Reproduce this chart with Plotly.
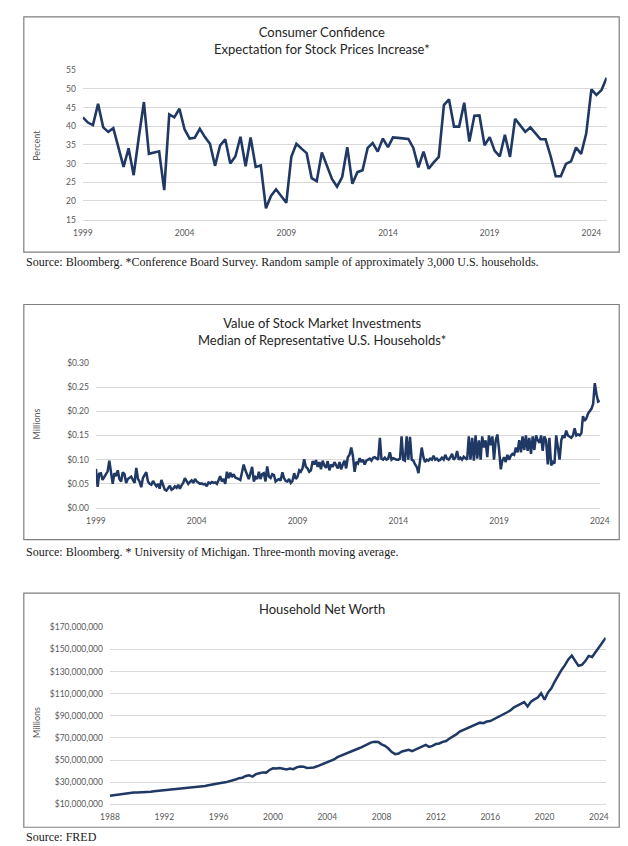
import pandas as pd
import plotly.graph_objects as go

##### Consumer confidence: expectation for stock prices increase (quarterly, %)
conf_dates = pd.date_range("1999-01-01", periods=104, freq="QS")
conf_pct = [42.4, 41.0, 40.3, 46.0,  39.7, 38.5, 39.5, 34.5,
            29.1, 34.1, 26.9, 37.0,  46.5, 32.6, 33.0, 33.3,
            22.9, 43.2, 42.4, 44.7,  39.2, 36.7, 36.9, 39.3,
            37.1, 35.3, 29.4, 34.9,  36.5, 30.0, 31.9, 37.2,
            29.3, 37.0, 29.1, 29.5,  18.0, 21.3, 23.1, 21.3,
            19.5, 31.8, 35.3, 34.0,  32.8, 26.1, 25.3, 33.0,
            29.4, 25.9, 23.8, 26.4,  34.4, 24.6, 27.7, 28.2,
            34.2, 35.5, 33.2, 36.7,  34.4, 37.0, 36.9, 36.8,
            36.6, 34.2, 29.0, 33.2,  28.6, 30.3, 31.8, 45.7,
            47.2, 39.9, 39.9, 46.3,  35.9, 42.8, 42.9, 34.9,
            37.1, 33.4, 31.9, 37.7,  31.8, 42.0, 40.4, 38.5,
            39.7, 38.1, 36.5, 36.5,  31.9, 26.6, 26.6, 29.9,
            30.6, 34.3, 32.6, 38.1,  49.9, 48.4, 49.7, 53.0]

##### Value of stock market investments, median household ($ millions, monthly)
stock_vals = [
    0.081, 0.044, 0.071, 0.072, 0.058, 0.065, 0.070, 0.076, 0.098, 0.070, 0.050, 0.072,  # 1999
    0.066, 0.078, 0.060, 0.055, 0.074, 0.070, 0.052, 0.060, 0.062, 0.065, 0.058, 0.052,  # 2000
    0.083, 0.060, 0.055, 0.043, 0.062, 0.070, 0.074, 0.055, 0.050, 0.048, 0.056, 0.050,  # 2001
    0.045, 0.050, 0.040, 0.058, 0.048, 0.038, 0.036, 0.040, 0.046, 0.038, 0.040, 0.045,  # 2002
    0.042, 0.048, 0.040, 0.047, 0.052, 0.062, 0.055, 0.050, 0.054, 0.057, 0.052, 0.060,  # 2003
    0.055, 0.052, 0.050, 0.051, 0.049, 0.050, 0.045, 0.053, 0.051, 0.054, 0.052, 0.053,  # 2004
    0.050, 0.058, 0.066, 0.055, 0.060, 0.050, 0.075, 0.062, 0.073, 0.064, 0.070, 0.063,  # 2005
    0.062, 0.060, 0.058, 0.072, 0.090, 0.078, 0.070, 0.060, 0.072, 0.085, 0.055, 0.064,  # 2006
    0.060, 0.075, 0.060, 0.070, 0.072, 0.055, 0.086, 0.065, 0.062, 0.070, 0.068, 0.055,  # 2007
    0.058, 0.060, 0.057, 0.074, 0.062, 0.056, 0.055, 0.060, 0.052, 0.056, 0.072, 0.060,  # 2008
    0.065, 0.078, 0.075, 0.082, 0.101, 0.085, 0.082, 0.075, 0.078, 0.097, 0.090, 0.099,  # 2009
    0.085, 0.095, 0.080, 0.098, 0.088, 0.083, 0.097, 0.078, 0.090, 0.085, 0.095, 0.088,  # 2010
    0.082, 0.095, 0.080, 0.090, 0.098, 0.082, 0.105, 0.110, 0.125, 0.108, 0.075, 0.095,  # 2011
    0.092, 0.103, 0.095, 0.100, 0.090, 0.098, 0.100, 0.102, 0.098, 0.104, 0.105, 0.103,  # 2012
    0.100, 0.145, 0.102, 0.100, 0.104, 0.100, 0.102, 0.115, 0.100, 0.103, 0.101, 0.100,  # 2013
    0.100, 0.102, 0.148, 0.100, 0.098, 0.148, 0.100, 0.147, 0.100, 0.098, 0.090, 0.085,  # 2014
    0.072, 0.095, 0.125, 0.105, 0.095, 0.100, 0.098, 0.102, 0.100, 0.108, 0.100, 0.102,  # 2015
    0.098, 0.100, 0.104, 0.100, 0.110, 0.102, 0.100, 0.105, 0.112, 0.100, 0.104, 0.118,  # 2016
    0.100, 0.104, 0.100, 0.106, 0.102, 0.100, 0.148, 0.100, 0.145, 0.098, 0.150, 0.102,  # 2017
    0.140, 0.100, 0.148, 0.125, 0.140, 0.105, 0.150, 0.130, 0.148, 0.100, 0.140, 0.152,  # 2018
    0.120, 0.080, 0.098, 0.105, 0.095, 0.110, 0.100, 0.108, 0.112, 0.110, 0.125, 0.115,  # 2019
    0.140, 0.115, 0.148, 0.120, 0.150, 0.118, 0.145, 0.112, 0.148, 0.120, 0.150, 0.140,  # 2020
    0.135, 0.150, 0.118, 0.148, 0.140, 0.090, 0.145, 0.088, 0.095, 0.092, 0.150, 0.125,  # 2021
    0.100, 0.140, 0.150, 0.145, 0.160, 0.150, 0.148, 0.145, 0.150, 0.165, 0.150, 0.152,  # 2022
    0.150, 0.155, 0.190, 0.180, 0.185, 0.195, 0.200, 0.205, 0.215, 0.258, 0.235, 0.220,  # 2023
    0.222,  # 2024
]
stock_dates = pd.date_range("1999-01-01", periods=len(stock_vals), freq="MS")

##### Household net worth (quarterly, $ trillions -> $ millions)
nw_tn = [17.7, 18.2, 18.6, 19.0,  19.5, 19.9, 20.4, 20.6,  20.7, 20.8, 20.6, 21.0,
         21.4, 21.7, 22.0, 22.5,  22.8, 23.0, 23.1, 23.5,  23.9, 24.3, 24.7, 25.1,
         25.3, 25.5, 25.8, 26.0,  26.5, 27.1, 27.8, 28.3,  28.9, 29.4, 29.8, 30.6,
         31.2, 32.3, 33.6, 34.0,  35.6, 36.2, 35.0, 37.2,  38.0, 38.8, 38.6, 41.0,
         42.5, 42.3, 42.8, 42.2,  41.5, 42.3, 41.7, 43.4,  44.2, 44.0, 42.8, 43.0,
         43.3, 44.3, 45.5, 47.3,  48.5, 49.8, 50.5, 52.6,  53.8, 54.7, 56.3, 57.3,
         59.0, 60.2, 61.4, 63.2,  64.5, 66.0, 66.6, 66.3,  64.2, 62.8, 60.4, 57.2,
         55.3, 55.9, 57.7, 58.2,  59.2, 58.1, 59.5, 61.4,  62.7, 63.6, 61.9, 62.8,
         64.5, 65.0, 66.4, 67.2,  69.5, 71.2, 73.2, 75.7,  77.0, 78.8, 79.4, 80.8,
         82.5, 83.8, 83.3, 84.8,  85.3, 86.8, 88.4, 89.6,  91.6, 93.2, 95.0, 97.6,
         99.3, 100.5, 102.4, 98.5,  102.8, 104.8, 106.5, 110.4,  104.5, 111.0, 114.9, 121.0,
         126.8, 131.5, 135.8, 141.0,  144.5, 139.3, 135.2, 136.0,  139.5, 144.2, 143.2, 147.5,
         152.1, 155.5, 160.5]
nw_dates = pd.date_range("1988-01-01", periods=len(nw_tn), freq="QS")
net_worth = [v * 1e6 for v in nw_tn]

W, H = 628, 846
LINE = "#1F3864"
GRID = "#D9D9D9"
TICK = "#595959"
SANS = "Lato, Open Sans, sans-serif"
SERIF = "Liberation Serif, DejaVu Serif, serif"


def px(x):
    return x / W


def py(y):
    return 1 - y / H


fig = go.Figure()
fig.add_trace(go.Scatter(x=conf_dates, y=conf_pct, mode="lines",
                         line=dict(color=LINE, width=2.6), xaxis="x", yaxis="y"))
fig.add_trace(go.Scatter(x=stock_dates, y=stock_vals, mode="lines",
                         line=dict(color=LINE, width=2.5), xaxis="x2", yaxis="y2"))
fig.add_trace(go.Scatter(x=nw_dates, y=net_worth, mode="lines",
                         line=dict(color=LINE, width=2.5), xaxis="x3", yaxis="y3"))

tickfont = dict(family=SANS, size=8.5, color=TICK)
xcommon = dict(type="date", showgrid=False, zeroline=False, ticks="", tickformat="%Y",
               tickfont=tickfont, showline=True, linecolor=GRID, linewidth=1,
               ticklabelstandoff=5)
ycommon = dict(showgrid=True, gridcolor=GRID, gridwidth=1, zeroline=False, ticks="",
               tickfont=tickfont, ticklabelstandoff=6)

fig.update_layout(
    width=W, height=H,
    margin=dict(l=0, r=0, t=0, b=0),
    paper_bgcolor="white", plot_bgcolor="white",
    showlegend=False,
    xaxis=dict(xcommon, domain=[px(67), px(608)], anchor="y",
               range=["1999-01-01", "2024-10-01"], tick0="1999-01-01", dtick="M60"),
    yaxis=dict(ycommon, domain=[py(209), py(58)], anchor="x",
               range=[15, 55], dtick=5),
    xaxis2=dict(xcommon, domain=[px(80.5), px(601)], anchor="y2",
                range=["1999-01-01", "2024-01-01"], tick0="1999-01-01", dtick="M60"),
    yaxis2=dict(ycommon, domain=[py(501), py(354)], anchor="x2",
                range=[0, 0.30], dtick=0.05, tickformat="$.2f"),
    xaxis3=dict(xcommon, domain=[px(95), px(607)], anchor="y3",
                range=["1988-01-01", "2024-07-01"], tick0="1988-01-01", dtick="M48"),
    yaxis3=dict(ycommon, domain=[py(800.7), py(621.7)], anchor="x3",
                range=[10e6, 170e6], tick0=10e6, dtick=20e6, tickformat="$,.0f"),
)

# panel frames
for top, bottom in [(4, 242), (295, 533), (587, 824)]:
    fig.add_shape(type="rect", xref="paper", yref="paper",
                  x0=px(6), x1=px(621), y0=py(bottom), y1=py(top),
                  line=dict(color="#7F7F7F", width=1.2))

titles = [
    ("Consumer Confidence<br>Expectation for Stock Prices Increase*", 314, 28),
    ("Value of Stock Market Investments<br>Median of Representative U.S. Households*", 314, 322),
    ("Household Net Worth", 314, 603),
]
for text, x, y in titles:
    fig.add_annotation(text=text, x=px(x), y=py(y), xref="paper", yref="paper",
                       showarrow=False, xanchor="center", yanchor="middle",
                       font=dict(family=SANS, size=13, color="#262626"))

for text, y in [("Percent", 134), ("Millions", 416), ("Millions", 718)]:
    fig.add_annotation(text=text, x=px(19), y=py(y), xref="paper", yref="paper",
                       showarrow=False, textangle=-90, xanchor="center", yanchor="middle",
                       font=dict(family=SANS, size=9, color=TICK))

sources = [
    ("Source: Bloomberg. *Conference Board Survey. Random sample of approximately 3,000 U.S. households.", 252),
    ("Source: Bloomberg. * University of Michigan. Three-month moving average.", 545),
    ("Source: FRED", 834),
]
for text, y in sources:
    fig.add_annotation(text=text, x=px(6), y=py(y), xref="paper", yref="paper",
                       showarrow=False, xanchor="left", yanchor="middle",
                       font=dict(family=SERIF, size=12, color="#1a1a1a"))

fig.write_html("out.html")
